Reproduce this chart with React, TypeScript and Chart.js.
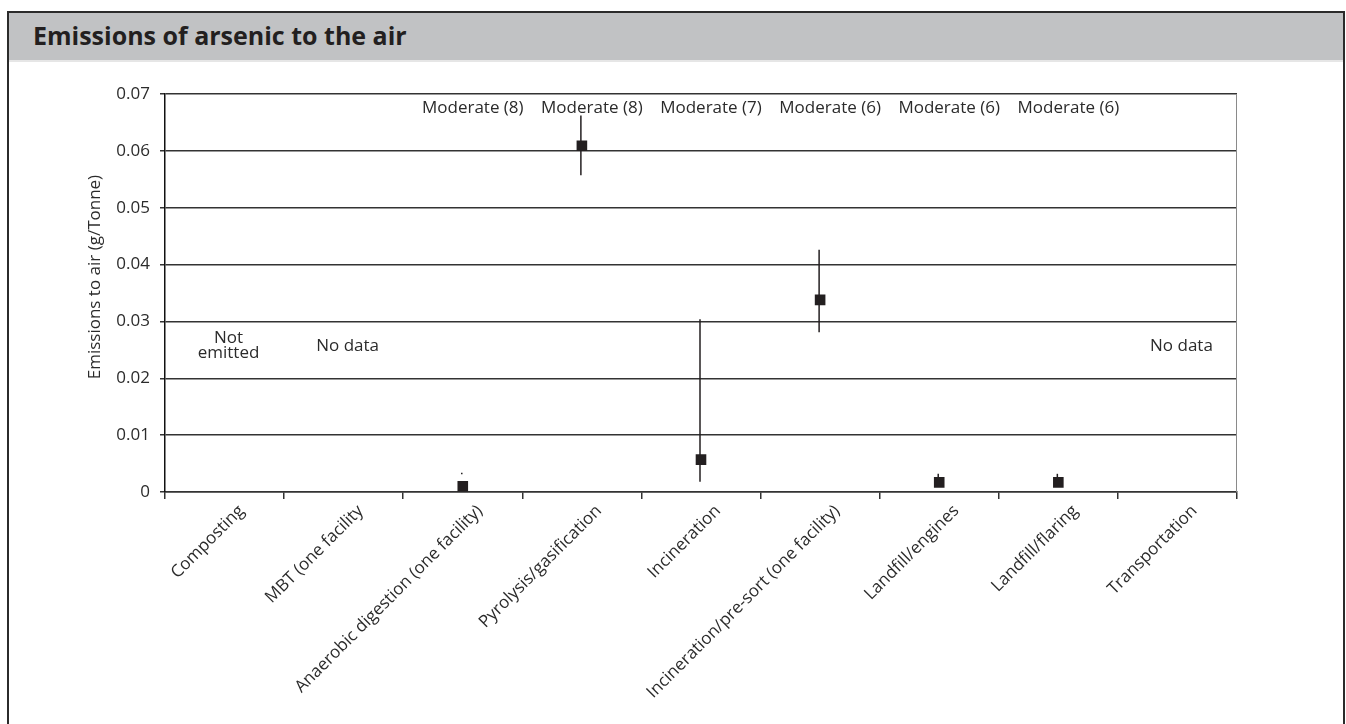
import React, { useEffect, useRef } from "react";
import { Chart, registerables } from "chart.js";

Chart.register(...registerables);

const chartTitle = "Emissions of arsenic to the air";
const yAxisTitle = "Emissions to air (g/Tonne)";

const categories = [
  "Composting",
  "MBT (one facility",
  "Anaerobic digestion (one facility)",
  "Pyrolysis/gasification",
  "Incineration",
  "Incineration/pre-sort (one facility)",
  "Landfill/engines",
  "Landfill/flaring",
  "Transportation",
];

const meanValues = [null, null, 0.001, 0.0609, 0.0057, 0.0338, 0.0017, 0.0017, null];
const errorLow = [null, null, 0.0031, 0.0557, 0.0018, 0.0281, 0.0009, 0.0009, null];
const errorHigh = [null, null, 0.0034, 0.0662, 0.0304, 0.0426, 0.0032, 0.0032, null];

const qualityLabels = [
  "",
  "",
  "Moderate (8)",
  "Moderate (8)",
  "Moderate (7)",
  "Moderate (6)",
  "Moderate (6)",
  "Moderate (6)",
  "",
];

const noteLabels: string[][] = [
  ["Not", "emitted"],
  ["No data"],
  [],
  [],
  [],
  [],
  [],
  [],
  ["No data"],
];

const yTickLabels = ["0", "0.01", "0.02", "0.03", "0.04", "0.05", "0.06", "0.07"];
const yMin = 0;
const yMax = 0.07;
const yStep = 0.01;
const qualityLabelLevel = 0.0675;
const noteLevel = 0.0257;

const FONT = "'Open Sans', 'Noto Sans', sans-serif";
const TEXT = "#2b2b2b";
const INK = "#231f20";

const overlayPlugin = {
  id: "overlay",
  beforeDatasetsDraw(chart: any) {
    const { ctx, chartArea, scales } = chart;
    const x = scales.x;
    const y = scales.y;
    ctx.save();
    ctx.strokeStyle = "#8a8a8a";
    ctx.lineWidth = 1;
    ctx.beginPath();
    ctx.moveTo(chartArea.right - 0.5, chartArea.top);
    ctx.lineTo(chartArea.right - 0.5, chartArea.bottom);
    ctx.stroke();
    ctx.strokeStyle = INK;
    ctx.lineWidth = 1.5;
    categories.forEach((_, i) => {
      const lo = errorLow[i];
      const hi = errorHigh[i];
      if (lo == null || hi == null) return;
      const px = x.getPixelForValue(i) - 1;
      ctx.beginPath();
      ctx.moveTo(px, y.getPixelForValue(lo));
      ctx.lineTo(px, y.getPixelForValue(hi));
      ctx.stroke();
    });
    ctx.restore();
  },
  afterDatasetsDraw(chart: any) {
    const { ctx, chartArea, scales } = chart;
    const x = scales.x;
    const y = scales.y;
    ctx.save();
    ctx.fillStyle = TEXT;
    ctx.font = `17px ${FONT}`;
    ctx.textAlign = "center";
    ctx.textBaseline = "middle";
    qualityLabels.forEach((t, i) => {
      if (!t) return;
      ctx.fillText(t, x.getPixelForValue(i) + 10, y.getPixelForValue(qualityLabelLevel));
    });
    noteLabels.forEach((lines, i) => {
      if (!lines.length) return;
      const cy = y.getPixelForValue(noteLevel);
      const lh = 15;
      const start = cy - ((lines.length - 1) * lh) / 2;
      lines.forEach((ln, k) => {
        ctx.fillText(ln, x.getPixelForValue(i) + 4, start + k * lh);
      });
    });
    ctx.translate(chartArea.left - 70, chartArea.top + (chartArea.bottom - chartArea.top) * 0.46);
    ctx.rotate(-Math.PI / 2);
    ctx.fillText(yAxisTitle, 0, 0);
    ctx.restore();
  },
};

export default function App() {
  const canvasRef = useRef<HTMLCanvasElement | null>(null);

  useEffect(() => {
    const canvas = canvasRef.current;
    if (!canvas) return;
    const chart = new Chart(canvas, {
      type: "line",
      data: {
        labels: categories,
        datasets: [
          {
            data: meanValues as any,
            showLine: false,
            pointStyle: "rect",
            pointRadius: 7.5,
            pointHoverRadius: 7.5,
            pointBackgroundColor: INK,
            pointBorderColor: INK,
            pointBorderWidth: 0,
          },
        ],
      },
      options: {
        responsive: false,
        animation: false,
        devicePixelRatio: 1,
        events: [],
        layout: { padding: { top: 94, right: 109, left: 0, bottom: 0 } },
        plugins: {
          legend: { display: false },
          tooltip: { enabled: false },
          title: { display: false },
        },
        scales: {
          x: {
            type: "category",
            offset: true,
            grid: {
              display: true,
              offset: true,
              drawOnChartArea: false,
              drawTicks: true,
              tickLength: 7,
              color: "#333",
              lineWidth: 1.5,
            },
            border: { display: true, color: "#333", width: 1.5 },
            ticks: {
              autoSkip: false,
              maxRotation: 45,
              minRotation: 45,
              labelOffset: 17,
              padding: 2,
              color: TEXT,
              font: { family: FONT, size: 17 },
            },
            afterFit: (s: any) => {
              s.height = 232;
            },
          },
          y: {
            min: yMin,
            max: yMax,
            ticks: {
              stepSize: yStep,
              padding: 10,
              color: TEXT,
              font: { family: FONT, size: 17 },
              callback: (_v: any, i: number) => yTickLabels[i],
            },
            grid: { color: "#333", lineWidth: 1.5, tickLength: 5, drawTicks: true },
            border: { display: true, color: "#111", width: 1.5 },
            afterFit: (s: any) => {
              s.width = 165;
            },
          },
        },
      } as any,
      plugins: [overlayPlugin],
    });
    return () => chart.destroy();
  }, []);

  return (
    <>
      <div
        style={{
          position: "absolute",
          left: 7,
          top: 11,
          width: 1338,
          height: 760,
          border: "2px solid #2b2b2b",
          boxSizing: "border-box",
          background: "#fff",
        }}
      >
        <div
          style={{
            position: "absolute",
            left: 0,
            top: 0,
            right: 0,
            height: 47,
            background: "#c1c2c4",
            borderBottom: "2px solid #e6e6e6",
          }}
        >
          <div
            style={{
              position: "absolute",
              left: 24,
              top: 7,
              lineHeight: "30px",
              fontSize: 25,
              fontWeight: 700,
              fontFamily: FONT,
              color: "#231f20",
              whiteSpace: "nowrap",
            }}
          >
            {chartTitle}
          </div>
        </div>
      </div>
      <canvas
        ref={canvasRef}
        width={1346}
        height={724}
        style={{ position: "absolute", left: 0, top: 0, width: 1346, height: 724 }}
      />
    </>
  );
}
